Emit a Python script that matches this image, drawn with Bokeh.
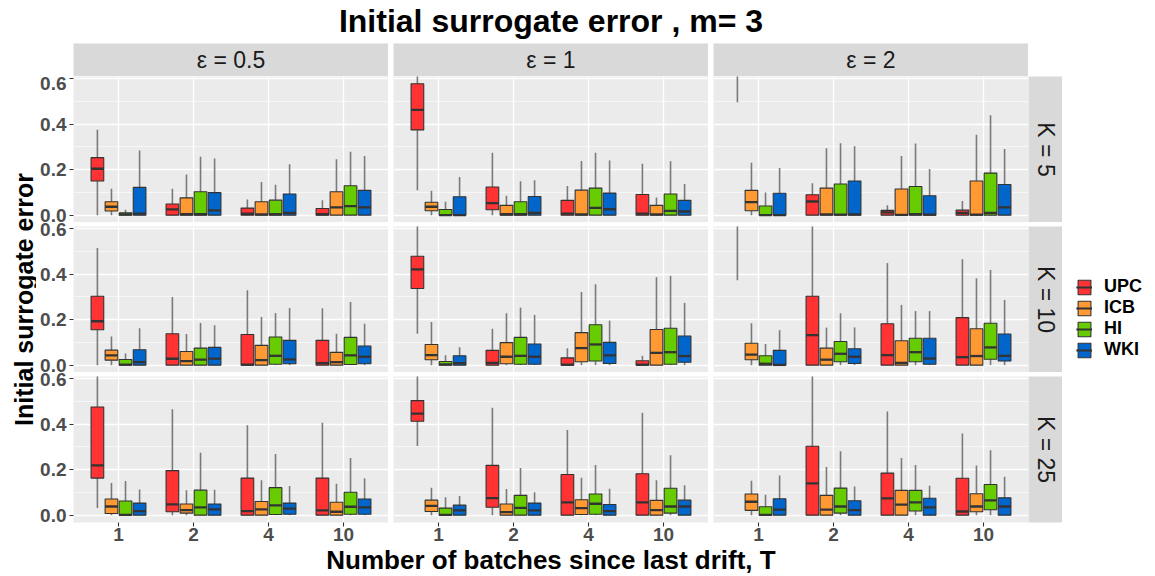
import math
from bokeh.plotting import figure
from bokeh.layouts import gridplot, column, row
from bokeh.models import (ColumnDataSource, Range1d, FixedTicker, Label, Legend,
                          LegendItem, NumeralTickFormatter)
from bokeh.transform import dodge
from bokeh.embed import file_html
from bokeh.resources import INLINE

# ---------------- data ----------------
TITLE = "Initial surrogate error , m= 3"
X_LABEL = "Number of batches since last drift, T"
Y_LABEL = "Initial surrogate error"
T_LABELS = ["1", "2", "4", "10"]
METHODS = ["UPC", "ICB", "HI", "WKI"]
COLORS = ["#FF3333", "#FF9933", "#66CC00", "#0066CC"]
EPS_LABELS = ["\u03b5 = 0.5", "\u03b5 = 1", "\u03b5 = 2"]
K_LABELS = ["K = 5", "K = 10", "K = 25"]
Y_TICKS = [0.0, 0.2, 0.4, 0.6]
Y_MINOR = [0.1, 0.3, 0.5]
NA = float("nan")  # box lies above the plotted range and cannot be read

# each entry: (lower whisker, Q1, median, Q3, upper whisker) for T = 1, 2, 4, 10
K5_EPS05 = {
    "UPC": [(0, 0.150, 0.204, 0.253, 0.376), (0, 0, 0.025, 0.049, 0.116), (0, 0, 0.006, 0.031, 0.069), (0, 0, 0.004, 0.029, 0.066)],
    "ICB": [(0, 0.018, 0.037, 0.059, 0.116), (0, 0, 0.004, 0.076, 0.179), (0, 0, 0.003, 0.059, 0.146), (0, 0, 0.034, 0.103, 0.246)],
    "HI":  [(0, 0, 0.003, 0.010, 0.024), (0, 0, 0.004, 0.103, 0.257), (0, 0, 0.004, 0.066, 0.134), (0, 0, 0.040, 0.129, 0.279)],
    "WKI": [(0, 0, 0.007, 0.122, 0.284), (0, 0, 0.021, 0.099, 0.249), (0, 0, 0.010, 0.093, 0.224), (0, 0, 0.034, 0.109, 0.260)],
}
K5_EPS1 = {
    "UPC": [(0.110, 0.375, 0.463, 0.578, 0.750), (0, 0.024, 0.053, 0.124, 0.274), (0, 0, 0.007, 0.065, 0.128), (0, 0, 0.007, 0.091, 0.226)],
    "ICB": [(0, 0.019, 0.037, 0.057, 0.107), (0, 0, 0.004, 0.043, 0.085), (0, 0, 0.003, 0.110, 0.238), (0, 0, 0.003, 0.043, 0.078)],
    "HI":  [(0, 0, 0.000, 0.025, 0.059), (0, 0, 0.004, 0.059, 0.149), (0, 0, 0.032, 0.119, 0.274), (0, 0, 0.019, 0.093, 0.237)],
    "WKI": [(0, 0, 0.000, 0.081, 0.168), (0, 0, 0.010, 0.082, 0.154), (0, 0, 0.026, 0.097, 0.240), (0, 0, 0.016, 0.065, 0.137)],
}
K5_EPS2 = {
    "UPC": [(0.497, NA, NA, NA, 1.000), (0, 0, 0.060, 0.090, 0.140), (0, 0, 0.012, 0.021, 0.044), (0, 0, 0.010, 0.022, 0.062)],
    "ICB": [(0, 0.019, 0.057, 0.109, 0.231), (0, 0, 0.003, 0.119, 0.294), (0, 0, 0.001, 0.115, 0.260), (0, 0, 0.002, 0.150, 0.354)],
    "HI":  [(0, 0, 0.000, 0.040, 0.100), (0, 0, 0.002, 0.137, 0.316), (0, 0, 0.004, 0.126, 0.315), (0, 0, 0.010, 0.185, 0.440)],
    "WKI": [(0, 0, 0.000, 0.096, 0.207), (0, 0, 0.003, 0.150, 0.303), (0, 0, 0.002, 0.085, 0.203), (0, 0, 0.034, 0.135, 0.291)],
}
K10_EPS05 = {
    "UPC": [(0, 0.156, 0.193, 0.303, 0.515), (0, 0, 0.028, 0.138, 0.300), (0, 0, 0.002, 0.135, 0.329), (0, 0, 0.009, 0.109, 0.250)],
    "ICB": [(0, 0.022, 0.043, 0.066, 0.126), (0, 0, 0.018, 0.060, 0.137), (0, 0, 0.022, 0.087, 0.212), (0, 0, 0.013, 0.056, 0.138)],
    "HI":  [(0, 0, 0.002, 0.025, 0.051), (0, 0, 0.024, 0.075, 0.185), (0, 0.004, 0.041, 0.124, 0.229), (0, 0.003, 0.043, 0.122, 0.278)],
    "WKI": [(0, 0, 0.013, 0.068, 0.162), (0, 0, 0.029, 0.078, 0.176), (0, 0.006, 0.025, 0.109, 0.251), (0, 0.006, 0.037, 0.084, 0.182)],
}
K10_EPS1 = {
    "UPC": [(0.138, 0.337, 0.421, 0.479, 0.750), (0, 0, 0.010, 0.065, 0.160), (0, 0, 0.002, 0.032, 0.074), (0, 0, 0.002, 0.019, 0.041)],
    "ICB": [(0, 0.024, 0.044, 0.091, 0.190), (0, 0.006, 0.037, 0.099, 0.228), (0, 0.015, 0.075, 0.143, 0.322), (0, 0, 0.054, 0.157, 0.387)],
    "HI":  [(0, 0, 0.003, 0.016, 0.044), (0, 0.004, 0.041, 0.122, 0.253), (0, 0.018, 0.091, 0.178, 0.356), (0, 0.004, 0.057, 0.162, 0.393)],
    "WKI": [(0, 0, 0.009, 0.041, 0.079), (0, 0.004, 0.037, 0.093, 0.221), (0, 0.007, 0.043, 0.100, 0.196), (0, 0.013, 0.040, 0.128, 0.274)],
}
K10_EPS2 = {
    "UPC": [(0.374, NA, NA, NA, 1.000), (0, 0, 0.132, 0.303, 0.750), (0, 0, 0.044, 0.182, 0.449), (0, 0, 0.035, 0.209, 0.466)],
    "ICB": [(0, 0.024, 0.046, 0.096, 0.184), (0, 0, 0.024, 0.075, 0.165), (0, 0, 0.010, 0.107, 0.265), (0, 0, 0.040, 0.160, 0.382)],
    "HI":  [(0, 0, 0.006, 0.041, 0.093), (0, 0.015, 0.050, 0.104, 0.228), (0, 0.015, 0.057, 0.118, 0.238), (0, 0.026, 0.078, 0.184, 0.419)],
    "WKI": [(0, 0, 0.001, 0.065, 0.154), (0, 0.007, 0.037, 0.072, 0.166), (0, 0.004, 0.029, 0.118, 0.238), (0, 0.018, 0.041, 0.137, 0.287)],
}
K25_EPS05 = {
    "UPC": [(0.031, 0.163, 0.219, 0.476, 0.620), (0, 0.015, 0.047, 0.196, 0.466), (0, 0, 0.018, 0.163, 0.396), (0, 0, 0.021, 0.163, 0.407)],
    "ICB": [(0, 0.007, 0.038, 0.071, 0.141), (0, 0.009, 0.022, 0.049, 0.109), (0, 0, 0.025, 0.060, 0.154), (0, 0, 0.015, 0.057, 0.138)],
    "HI":  [(0, 0, 0.001, 0.062, 0.150), (0, 0, 0.034, 0.110, 0.275), (0, 0.003, 0.043, 0.121, 0.269), (0, 0.004, 0.037, 0.101, 0.251)],
    "WKI": [(0, 0, 0.018, 0.053, 0.113), (0, 0, 0.025, 0.049, 0.112), (0, 0.004, 0.029, 0.053, 0.128), (0, 0.004, 0.034, 0.071, 0.162)],
}
K25_EPS1 = {
    "UPC": [(0.304, 0.413, 0.447, 0.504, 0.750), (0, 0.035, 0.075, 0.219, 0.472), (0, 0, 0.056, 0.179, 0.375), (0, 0, 0.056, 0.182, 0.450)],
    "ICB": [(0, 0.016, 0.041, 0.066, 0.121), (0, 0, 0.013, 0.049, 0.115), (0, 0.003, 0.031, 0.068, 0.165), (0, 0, 0.022, 0.065, 0.154)],
    "HI":  [(0, 0, 0.001, 0.031, 0.079), (0, 0, 0.032, 0.087, 0.207), (0, 0.004, 0.050, 0.093, 0.221), (0, 0.009, 0.038, 0.118, 0.263)],
    "WKI": [(0, 0, 0.021, 0.044, 0.084), (0, 0, 0.021, 0.053, 0.101), (0, 0, 0.018, 0.047, 0.116), (0, 0, 0.038, 0.066, 0.132)],
}
K25_EPS2 = {
    "UPC": [(0.650, NA, NA, NA, 1.000), (0, 0, 0.140, 0.303, 0.750), (0, 0, 0.074, 0.185, 0.456), (0, 0, 0.016, 0.162, 0.359)],
    "ICB": [(0, 0.021, 0.059, 0.093, 0.151), (0, 0, 0.024, 0.087, 0.212), (0, 0, 0.046, 0.109, 0.251), (0, 0.015, 0.038, 0.094, 0.218)],
    "HI":  [(0, 0, 0.001, 0.037, 0.090), (0, 0.009, 0.038, 0.119, 0.281), (0, 0.018, 0.056, 0.109, 0.221), (0, 0.024, 0.065, 0.135, 0.285)],
    "WKI": [(0, 0, 0.024, 0.072, 0.174), (0, 0, 0.022, 0.063, 0.126), (0, 0, 0.034, 0.074, 0.129), (0, 0, 0.038, 0.076, 0.169)],
}
PANELS = [[K5_EPS05, K5_EPS1, K5_EPS2],
          [K10_EPS05, K10_EPS1, K10_EPS2],
          [K25_EPS05, K25_EPS1, K25_EPS2]]

# ---------------- styling / layout ----------------
FONT = "Liberation Sans"
W_TOTAL, H_TOTAL = 1155, 576
TITLE_H = 43
FW, FH = 315, 146
STRIP_H, RSTRIP_W, LEG_W = 33, 34, 93
YLAB_W = 36
LEFT_AX = 37
GAP = 5
ROW_GAP = 4
BOTTOM_AX = 24
Y_RANGE = (-0.0324, 0.610)
DODGE_STEP = 0.1875
BOX_W = 0.169
PANEL_BG = "#EBEBEB"
STRIP_BG = "#D9D9D9"
WHISKER_COLOR = "#7A7A7A"
OUTLINE_COLOR = "#333333"

x_pos = list(range(1, len(T_LABELS) + 1))


def base_fig(fw, fh, left=0, right=0, top=0, bottom=0, xloc=None, yloc=None, xr=None, yr=None):
    p = figure(frame_width=fw, frame_height=fh, output_backend="svg", toolbar_location=None,
               tools="", title=None,
               x_range=xr if xr is not None else Range1d(0, 1),
               y_range=yr if yr is not None else Range1d(0, 1),
               x_axis_location=xloc, y_axis_location=yloc,
               min_border_left=left, min_border_right=right,
               min_border_top=top, min_border_bottom=bottom)
    p.outline_line_color = None
    p.border_fill_color = "white"
    p.background_fill_color = "white"
    return p


def no_grid(p):
    for g in list(p.center):
        g.visible = False


def style_axis(ax):
    ax.axis_line_color = None
    ax.major_tick_line_color = OUTLINE_COLOR
    ax.major_tick_line_width = 1.1
    ax.major_tick_in = 0
    ax.major_tick_out = 4
    ax.minor_tick_line_color = None
    ax.major_label_text_font = FONT
    ax.major_label_text_font_style = "bold"
    ax.major_label_text_font_size = "19px"
    ax.major_label_text_color = "#4D4D4D"
    ax.major_label_standoff = 3


def make_panel(r, c):
    data = PANELS[r][c]
    left = LEFT_AX if c == 0 else GAP
    top = 0 if r == 0 else ROW_GAP
    bottom = BOTTOM_AX if r == 2 else 0
    p = base_fig(FW, FH, left=left, right=0, top=top, bottom=bottom,
                 xloc="below" if r == 2 else None, yloc="left" if c == 0 else None,
                 xr=Range1d(0.4, len(T_LABELS) + 0.6), yr=Range1d(*Y_RANGE))
    p.background_fill_color = PANEL_BG
    xt = FixedTicker(ticks=x_pos)
    yt = FixedTicker(ticks=Y_TICKS, minor_ticks=Y_MINOR)
    p.xgrid.ticker = xt
    p.ygrid.ticker = yt
    p.grid.grid_line_color = "white"
    p.grid.grid_line_width = 1.3
    p.ygrid.minor_grid_line_color = "white"
    p.ygrid.minor_grid_line_width = 0.6

    if c == 0:
        ax = p.yaxis[0]
        ax.ticker = yt
        ax.formatter = NumeralTickFormatter(format="0.0")
        style_axis(ax)
    if r == 2:
        ax = p.xaxis[0]
        ax.ticker = xt
        ax.major_label_overrides = {x: lab for x, lab in zip(x_pos, T_LABELS)}
        style_axis(ax)
        ax.major_label_standoff = 1

    n = len(METHODS)
    for i, (m, col) in enumerate(zip(METHODS, COLORS)):
        rows = data[m]
        src = ColumnDataSource(dict(
            xi=x_pos,
            lo=[v[0] for v in rows], q1=[v[1] for v in rows], med=[v[2] for v in rows],
            q3=[v[3] for v in rows], hi=[v[4] for v in rows]))
        off = (i - (n - 1) / 2) * DODGE_STEP
        p.segment(x0=dodge("xi", off), x1=dodge("xi", off), y0="lo", y1="hi",
                  line_color=WHISKER_COLOR, line_width=1.6, source=src)
        p.vbar(x=dodge("xi", off), width=BOX_W, bottom="q1", top="q3",
               fill_color=col, line_color=OUTLINE_COLOR, line_width=1.1, source=src)
        p.segment(x0=dodge("xi", off - BOX_W / 2), x1=dodge("xi", off + BOX_W / 2),
                  y0="med", y1="med", line_color=OUTLINE_COLOR, line_width=2.3, source=src)
    return p


def make_top_strip(c):
    left = LEFT_AX if c == 0 else GAP
    s = base_fig(FW, STRIP_H, left=left, right=0, top=0, bottom=0)
    no_grid(s)
    s.background_fill_color = STRIP_BG
    s.add_layout(Label(x=0.5, y=0.5, text=EPS_LABELS[c], text_align="center",
                       text_baseline="middle", text_font=FONT, text_font_size="23px",
                       text_color="#1A1A1A"))
    return s


def make_right_strip(r):
    top = 0 if r == 0 else ROW_GAP
    bottom = BOTTOM_AX if r == 2 else 0
    s = base_fig(RSTRIP_W, FH, left=0, right=0, top=top, bottom=bottom)
    no_grid(s)
    s.background_fill_color = STRIP_BG
    s.add_layout(Label(x=0.5, y=0.5, text=K_LABELS[r], text_align="center",
                       text_baseline="middle", angle=-math.pi / 2, text_font=FONT,
                       text_font_size="23px", text_color="#1A1A1A"))
    return s


def make_legend_fig():
    f = base_fig(LEG_W, FH, left=0, right=0, top=ROW_GAP, bottom=0)
    no_grid(f)
    items = []
    for m, col in zip(METHODS, COLORS):
        proxy = ColumnDataSource(dict(x=[NA], y=[NA]))
        wk = f.vspan(x="x", line_color=WHISKER_COLOR, line_width=1.5, source=proxy)
        b = f.vbar(x="x", top="y", bottom="y", width=0.1, fill_color=col,
                   line_color=OUTLINE_COLOR, line_width=1.1, source=proxy)
        md = f.segment(x0="x", x1="x", y0="y", y1="y", line_color=OUTLINE_COLOR,
                       line_width=2, source=proxy)
        items.append(LegendItem(label=m, renderers=[wk, b, md]))
    leg = Legend(items=items, location=(14, 12), glyph_width=16, glyph_height=18,
                 label_height=15, spacing=0, padding=0, margin=0, label_standoff=12,
                 label_text_font=FONT, label_text_font_size="18px",
                 label_text_font_style="bold", label_text_color="black",
                 label_text_baseline="middle",
                 border_line_color=None, background_fill_alpha=0)
    f.add_layout(leg)
    return f


strips = [make_top_strip(c) for c in range(3)]
panels = [[make_panel(r, c) for c in range(3)] for r in range(3)]
rstrips = [make_right_strip(r) for r in range(3)]
legend_fig = make_legend_fig()

grid = gridplot([
    strips + [None, None],
    panels[0] + [rstrips[0], None],
    panels[1] + [rstrips[1], legend_fig],
    panels[2] + [rstrips[2], None],
], toolbar_location=None)

GRID_H = STRIP_H + FH + (FH + ROW_GAP) + (FH + ROW_GAP + BOTTOM_AX)
panel_mid_from_bottom = BOTTOM_AX + (3 * FH + 2 * ROW_GAP) / 2
center_x = YLAB_W + LEFT_AX + (3 * FW + 2 * GAP) / 2

# main title
title_fig = base_fig(W_TOTAL, TITLE_H)
no_grid(title_fig)
title_fig.add_layout(Label(x=center_x, y=TITLE_H - 20, x_units="screen", y_units="screen",
                           text=TITLE, text_align="center", text_baseline="middle",
                           text_font=FONT, text_font_size="32px", text_font_style="bold",
                           text_color="black"))

# y axis title
ylab_fig = base_fig(YLAB_W, GRID_H)
no_grid(ylab_fig)
ylab_fig.add_layout(Label(x=23, y=panel_mid_from_bottom, x_units="screen", y_units="screen",
                          text=Y_LABEL, text_align="center", text_baseline="middle",
                          angle=math.pi / 2, text_font=FONT, text_font_size="25px",
                          text_font_style="bold", text_color="black"))

# x axis title
XLAB_H = H_TOTAL - TITLE_H - GRID_H
xlab_fig = base_fig(W_TOTAL, XLAB_H)
no_grid(xlab_fig)
xlab_fig.add_layout(Label(x=center_x, y=XLAB_H - 13, x_units="screen", y_units="screen",
                          text=X_LABEL, text_align="center", text_baseline="middle",
                          text_font=FONT, text_font_size="26px", text_font_style="bold",
                          text_color="black"))

layout = column(title_fig, row(ylab_fig, grid), xlab_fig)

open("out.html", "w").write(file_html(layout, INLINE))
